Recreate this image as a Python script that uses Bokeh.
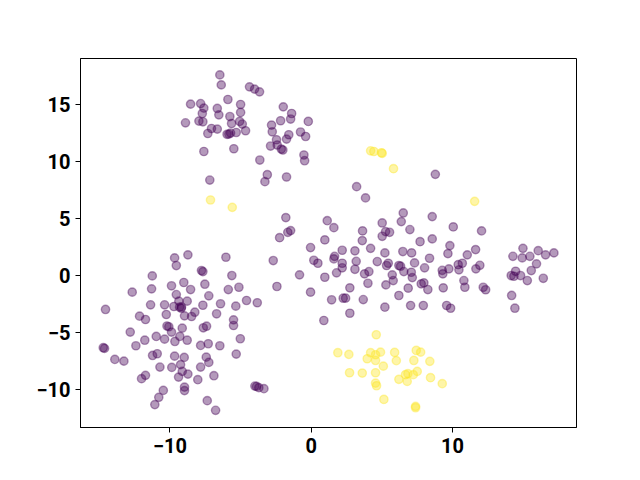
from bokeh.plotting import figure
from bokeh.models import FixedTicker, Range1d
from bokeh.embed import file_html
from bokeh.resources import INLINE

# ---- data ----
purple_x = [
    # top cluster
    -6.47, -6.37, -4.37, -4.01, -3.66, -8.54, -7.83, -7.60, -7.71, -5.90,
    -6.65, -6.54, -5.00, -5.00, -5.76, -8.90, -7.95, -7.67, -5.64, -5.07,
    -4.88, -7.06, -6.65, -7.32, -5.83, -5.96, -5.71, -5.31, -4.65, -1.98,
    -1.39, -1.46, -2.17, -0.21, -2.81, -2.76, -0.76, -0.40, -1.59, -1.75,
    -2.46, -2.88, -2.41, -2.12, -2.01, -7.60, -5.48, -3.64, -0.52, -0.47,
    -7.18, -3.11, -3.28, -1.75,
    # lower-left cluster
    -8.73, -9.67, -9.55, -6.04, -2.69, -7.67, -7.77, -11.25, -5.62, -9.02,
    -9.89, -7.53, -11.30, -8.54, -5.87, -5.12, -12.67, -9.55, -7.25, -8.78,
    -9.37, -11.37, -10.38, -9.72, -9.32, -9.18, -9.20, -7.67, -6.42, -5.34,
    -4.58, -3.82, -14.56, -12.15, -11.73, -10.26, -8.97, -8.24, -8.47, -6.70,
    -5.50, -5.50, -10.08, -10.21, -9.89, -9.13, -7.64, -7.41, -12.81, -10.97,
    -10.38, -9.65, -8.78, -9.30, -11.78, -12.41, -5.02, -7.83, -7.29, -6.47,
    -14.72, -14.63, -11.23, -10.90, -9.67, -8.99, -7.43, -7.25, -5.31, -13.90,
    -13.26, -10.71, -9.87, -9.25, -7.83, -9.13, -8.73, -9.39, -11.73, -12.01,
    -8.03, -6.89, -8.97, -8.97, -3.99, -3.87, -3.71, -3.35, -10.47, -10.79,
    -11.07, -7.36, -6.77,
    # central cluster
    3.21, 3.84, -1.80, 1.13, 1.60, -1.46, -1.66, -2.24, 3.63, 3.61,
    5.02, 6.51, 6.37, 6.98, 5.26, 5.54, 5.02, 7.70, 0.96, -0.05,
    2.19, 3.09, 4.20, 5.21, 6.48, 7.10, 0.18, 0.47, 1.60, 1.65,
    2.19, 2.19, 3.18, 3.09, 4.67, 5.45, 5.33, 6.20, 6.32, 7.31,
    6.55, 7.08, 7.15, 5.73, 5.80, -0.83, 0.96, 1.79, 3.77, 4.08,
    4.01, 5.28, 2.73, 6.86, -2.43, -0.05, 6.20, 1.44, 2.26, 2.43,
    3.68, 5.21, 7.03, 2.73, 0.89,
    # central-right part
    8.78, 8.56, 10.05, 12.05, 8.56, 9.81, 9.67, 11.63, 11.04, 8.37,
    8.02, 9.27, 9.31, 9.74, 10.40, 10.69, 10.45, 11.65, 11.93, 7.97,
    7.78, 8.25, 9.34, 10.80, 10.87, 12.17, 12.34, 7.93, 9.58, 9.86,
    # far-right cluster
    14.98, 14.27, 14.93, 15.47, 16.06, 16.58, 17.17, 15.94, 15.57, 14.46,
    14.15, 14.34, 14.81, 15.29, 16.42, 14.18, 14.41,
]
purple_y = [
    # top cluster
    17.63, 16.75, 16.58, 16.38, 16.14, 15.06, 15.11, 14.71, 14.24, 15.47,
    14.68, 14.12, 15.03, 14.33, 13.97, 13.42, 13.57, 13.51, 13.36, 13.54,
    13.31, 12.92, 12.87, 12.48, 12.43, 12.41, 12.52, 12.57, 12.72, 14.82,
    14.24, 13.75, 13.60, 13.54, 13.22, 12.63, 12.61, 12.22, 12.37, 11.99,
    11.93, 11.38, 11.47, 11.11, 11.03, 10.90, 11.14, 10.15, 10.59, 10.09,
    8.39, 8.86, 8.25, 8.66,
    # lower-left cluster
    1.82, 1.55, 0.88, 1.61, 1.32, 0.35, 0.44, -0.03, 0.00, -0.61,
    -0.90, -0.76, -1.17, -1.23, -1.23, -1.03, -1.46, -1.67, -1.78, -2.25,
    -2.25, -2.57, -2.57, -2.72, -2.78, -2.76, -2.87, -2.61, -2.48, -2.69,
    -2.19, -2.39, -2.98, -3.57, -3.86, -3.42, -3.54, -3.22, -3.60, -3.36,
    -3.89, -4.39, -4.50, -4.43, -4.97, -4.62, -4.59, -4.45, -4.97, -5.35,
    -5.59, -5.79, -5.68, -5.35, -5.68, -6.17, -5.55, -6.14, -5.99, -6.17,
    -6.34, -6.40, -7.02, -6.87, -7.08, -7.19, -7.17, -7.63, -6.90, -7.37,
    -7.52, -8.04, -8.07, -7.83, -8.04, -8.42, -8.66, -8.92, -8.77, -9.06,
    -9.15, -8.80, -9.80, -10.11, -9.71, -9.74, -9.85, -9.94, -10.09, -10.70,
    -11.34, -10.99, -11.84,
    # central cluster
    7.81, 6.82, 5.09, 4.82, 4.21, 3.95, 3.80, 3.33, 3.92, 3.07,
    4.62, 5.50, 4.74, 4.04, 3.86, 3.80, 3.45, 2.98, 3.13, 2.46,
    2.22, 2.17, 2.39, 1.99, 2.11, 1.99, 1.34, 1.08, 1.46, 1.69,
    1.08, 0.68, 1.25, 0.55, 1.23, 1.08, 0.88, 0.88, 0.82, 1.11,
    0.35, 0.29, -0.18, 0.06, -0.44, 0.06, -0.15, 0.24, 0.15, 0.35,
    -0.68, -0.82, -1.08, -1.11, -0.96, -1.46, -1.75, -2.13, -1.99, -1.99,
    -2.11, -2.78, -2.63, -3.31, -3.95,
    # central-right part
    8.89, 5.18, 4.27, 3.92, 3.22, 2.63, 1.93, 2.28, 1.82, 1.52,
    0.68, 0.46, 0.15, 0.59, 0.96, 1.08, 0.50, 0.59, 0.90, -0.64,
    -0.73, -1.23, -1.08, -0.44, -1.03, -1.03, -1.25, -2.63, -2.63, -2.87,
    # far-right cluster
    2.39, 1.69, 1.55, 1.69, 2.19, 1.82, 1.99, 1.03, 0.44, 0.38,
    0.00, -0.06, 0.00, -0.44, -0.24, -1.75, -2.87,
]
yellow_x = [
    -7.13, -5.59, 4.20, 4.43, 5.02, 4.97, 5.82, 11.56,
    4.60, 1.88, 2.66, 4.20, 4.55, 4.90, 3.96, 4.55, 5.10, 5.90,
    6.02, 7.43, 7.74, 7.26, 8.39, 2.71, 3.61, 4.55, 4.55, 4.62,
    6.20, 6.67, 6.84, 6.79, 7.22, 7.50, 8.44, 9.27, 5.14, 7.38, 7.38,
]
yellow_y = [
    6.64, 5.99, 10.96, 10.90, 10.73, 10.79, 9.39, 6.52,
    -5.20, -6.78, -6.93, -6.78, -6.96, -6.73, -7.31, -7.46, -7.96, -6.75,
    -7.48, -6.58, -6.73, -7.46, -7.54, -8.54, -8.57, -8.54, -9.45, -9.68,
    -9.12, -8.71, -8.62, -9.30, -8.71, -8.42, -8.97, -9.50, -10.88, -11.49, -11.61,
]
x_ticks = [-10, 0, 10]
y_ticks = [-10, -5, 0, 5, 10, 15]

PURPLE = "#440154"
YELLOW = "#fde725"

p = figure(
    width=630, height=470,
    x_range=Range1d(-16.33, 18.77), y_range=Range1d(-13.35, 19.07),
    output_backend="svg", toolbar_location=None,
    min_border_left=80, min_border_right=54,
    min_border_top=58, min_border_bottom=43,
)
p.background_fill_color = "white"
p.border_fill_color = "white"
p.outline_line_color = "black"
p.outline_line_width = 1
p.grid.visible = False

for xs, ys, c in ((purple_x, purple_y, PURPLE), (yellow_x, yellow_y, YELLOW)):
    p.scatter(xs, ys, marker="circle", size=8.3,
              fill_color=c, fill_alpha=0.4,
              line_color=c, line_alpha=0.4, line_width=1.4)

def minus(v):
    return ("\u2212" + str(abs(v))) if v < 0 else str(v)

for ax, ticks in ((p.xaxis[0], x_ticks), (p.yaxis[0], y_ticks)):
    ax.ticker = FixedTicker(ticks=ticks)
    ax.major_label_overrides = {t: minus(t) for t in ticks}
    ax.minor_tick_line_color = None
    ax.major_tick_in = 0
    ax.major_tick_out = 5
    ax.major_tick_line_color = "black"
    ax.axis_line_color = "black"
    ax.major_label_standoff = 5
    ax.major_label_text_font = "Roboto"
    ax.major_label_text_font_style = "bold"
    ax.major_label_text_font_size = "20px"
    ax.major_label_text_color = "black"

open("out.html", "w").write(file_html(p, INLINE))
